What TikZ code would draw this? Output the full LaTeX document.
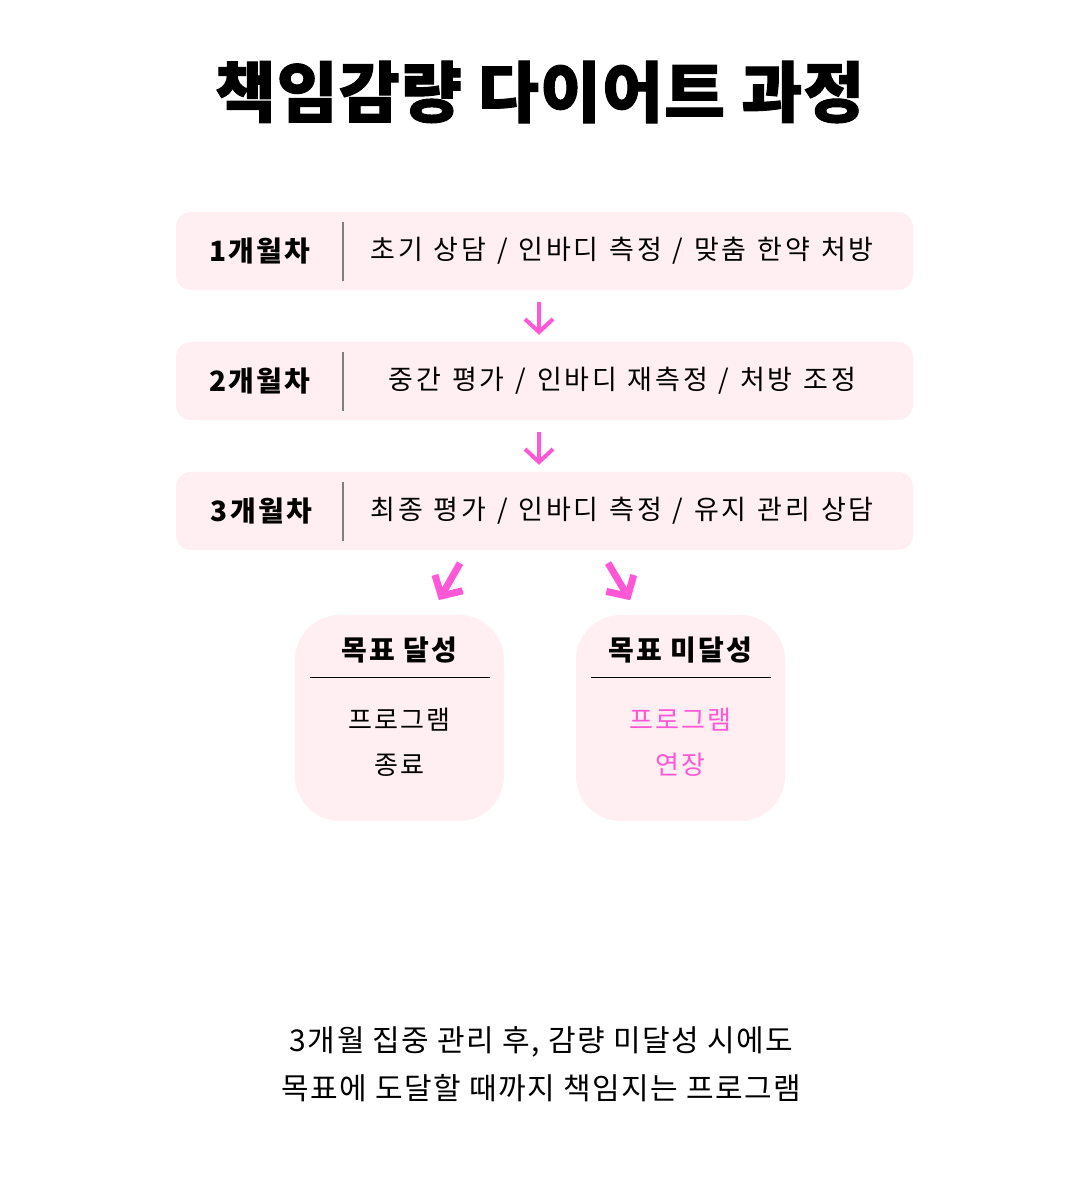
\documentclass[tikz,border=0pt]{standalone}
\usepackage{fontspec}
\setmainfont{Noto Sans CJK KR}
\newfontfamily\titlefont{Noto Sans CJK KR}[LetterSpace=2,BoldFeatures={FakeBold=1.5}]
\newfontfamily\widefont{Noto Sans CJK KR}[LetterSpace=10,WordSpace=1.25]
\newfontfamily\labelfont{Noto Sans CJK KR}[LetterSpace=8]
\newfontfamily\notefont{Noto Sans CJK KR}[LetterSpace=5]
\usetikzlibrary{arrows.meta,positioning}

\definecolor{rowpink}{HTML}{FFEEF2}
\definecolor{hotpink}{HTML}{FF57D6}
\definecolor{barline}{HTML}{7F7F7F}

\begin{document}
\begin{tikzpicture}[x=1pt,y=1pt,node distance=130pt,
  stage/.style={rectangle,rounded corners=15pt,fill=rowpink,minimum width=737pt,minimum height=78pt,inner sep=0pt},
  month/.style={font=\labelfont\bfseries\fontsize{28}{30}\selectfont},
  task/.style={font=\widefont\fontsize{27}{30}\selectfont},
  result/.style={rectangle,rounded corners=45pt,fill=rowpink,minimum width=209pt,minimum height=206pt,inner sep=0pt},
  resulthead/.style={font=\labelfont\bfseries\fontsize{28}{30}\selectfont},
  resultbody/.style={align=center,font=\labelfont\fontsize{26}{45}\selectfont},
  nextarrow/.style={-{Straight Barb[length=13pt,width=28pt]},draw=hotpink,line width=4pt,shorten <=12pt,shorten >=7pt},
  splitarrow/.style={-{Straight Barb[length=15pt,width=32pt]},draw=hotpink,line width=7pt}]

  \fill[white] (0,0) rectangle (1080,1200);
  \useasboundingbox (0,0) rectangle (1080,1200);

  % title
  \node[font=\titlefont\bfseries\fontsize{66}{72}\selectfont] (title) at (539.5,1108) {책임감량 다이어트 과정};

  % monthly stages
  \node[stage] (m1) at (544.5,949) {};
  \node[stage] (m2) [below of=m1] {};
  \node[stage] (m3) [below of=m2] {};

  \node[month] (m1l) at ([xshift=-284.5pt]m1.center) {1개월차};
  \node[month] (m2l) at ([xshift=-284.5pt]m2.center) {2개월차};
  \node[month] (m3l) at ([xshift=-283pt]m3.center) {3개월차};

  \node[task] (m1t) at ([xshift=77.5pt]m1.center) {초기 상담 / 인바디 측정 / 맞춤 한약 처방};
  \node[task] (m2t) at ([xshift=78pt]m2.center) {중간 평가 / 인바디 재측정 / 처방 조정};
  \node[task] (m3t) at ([xshift=77.5pt]m3.center) {최종 평가 / 인바디 측정 / 유지 관리 상담};

  \foreach \m in {m1,m2,m3}
    \draw[barline,line width=1.8pt] ([xshift=-201.5pt,yshift=-10pt]\m.north) -- ([xshift=-201.5pt,yshift=9pt]\m.south);

  \draw[nextarrow] ([xshift=-5.5pt]m1.south) -- ([xshift=-5.5pt]m2.north);
  \draw[nextarrow] ([xshift=-5.5pt]m2.south) -- ([xshift=-5.5pt]m3.north);

  % outcomes
  \node[result] (goal) at (399.5,482) {};
  \node[result] (miss) at (680.5,482) {};

  \draw[splitarrow,shorten <=15pt,shorten >=17pt] ([xshift=-77pt]m3.south) -- ([xshift=31pt]goal.north);
  \draw[splitarrow,shorten <=15pt,shorten >=17pt] ([xshift=55.8pt]m3.south) -- ([xshift=-41.6pt]miss.north);

  \node[resulthead] (goalh) at ([yshift=-35pt]goal.north) {목표 달성};
  \node[resulthead] (missh) at ([yshift=-35pt]miss.north) {목표 미달성};
  \draw[line width=1.2pt] ([xshift=-90pt,yshift=-63pt]goal.north) -- ([xshift=90pt,yshift=-63pt]goal.north);
  \draw[line width=1.2pt] ([xshift=-90pt,yshift=-63pt]miss.north) -- ([xshift=90pt,yshift=-63pt]miss.north);

  \node[resultbody] (goalb) at ([yshift=-24.5pt]goal.center) {프로그램\\종료};
  \node[resultbody,text=hotpink] (missb) at ([yshift=-24.5pt]miss.center) {프로그램\\연장};

  % closing note
  \node[align=center,font=\notefont\fontsize{30}{48}\selectfont] (note) at (541.5,136)
    {3개월 집중 관리 후, 감량 미달성 시에도\\목표에 도달할 때까지 책임지는 프로그램};
\end{tikzpicture}
\end{document}
